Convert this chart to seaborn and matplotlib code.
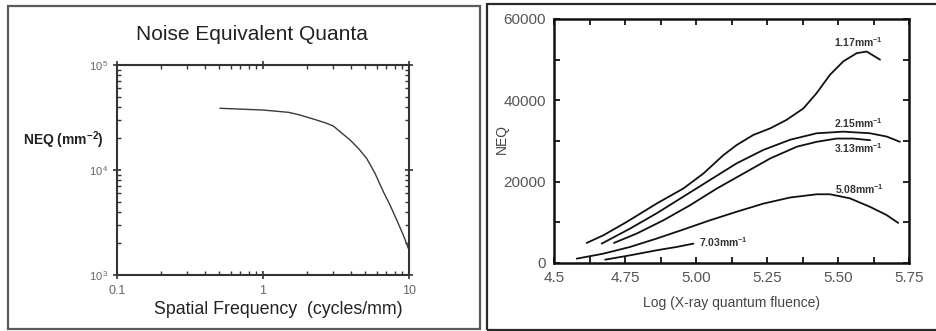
import matplotlib
matplotlib.use("Agg")
import matplotlib.pyplot as plt
import matplotlib.patches as mpatches
import matplotlib.ticker as mticker
import numpy as np
import pandas as pd
import seaborn as sns

sns.set_style("white")
plt.rcParams['font.family'] = ['Liberation Sans', 'DejaVu Sans']
plt.rcParams['mathtext.fontset'] = 'custom'
plt.rcParams['mathtext.rm'] = 'Liberation Sans'
plt.rcParams['mathtext.bf'] = 'Liberation Sans:bold'

# ---------------- Left panel data (log-log NEQ vs spatial frequency) ----------
freq = [0.507, 1.0, 1.5, 1.79, 2.33, 2.7, 3.03, 3.95, 4.50, 5.13, 5.85, 6.67, 7.41, 8.24,
        9.14, 9.9, 10.0]
neq_freq = [38700, 37260, 35400, 33400, 29900, 28000, 26250, 19300, 16070, 12900, 9290,
            6220, 4640, 3340, 2400, 1795, 1750]

# ---------------- Right panel data (NEQ vs log fluence) -----------------------
x_117 = [4.615, 4.674, 4.756, 4.861, 4.955, 5.026, 5.096, 5.143, 5.202, 5.261,
         5.319, 5.378, 5.425, 5.472, 5.519, 5.566, 5.601, 5.648]
y_117 = [4930, 6820, 10100, 14600, 18300, 22000, 26500, 29000, 31500, 33100,
         35200, 38000, 41800, 46300, 49600, 51600, 52000, 50000]
x_215 = [4.668, 4.768, 4.861, 4.955, 5.049, 5.143, 5.237, 5.331, 5.425, 5.519,
         5.613, 5.671, 5.718]
y_215 = [4770, 8470, 12200, 16300, 20400, 24500, 27800, 30300, 31900, 32300,
         31900, 31100, 29800]
x_313 = [4.711, 4.791, 4.885, 4.979, 5.073, 5.167, 5.261, 5.355, 5.425, 5.495,
         5.554, 5.613]
y_313 = [4930, 7230, 10500, 14200, 18300, 22000, 25700, 28600, 29800, 30600,
         30600, 30200]
x_508 = [4.58, 4.674, 4.768, 4.861, 4.955, 5.049, 5.143, 5.237, 5.331, 5.425,
         5.472, 5.542, 5.613, 5.671, 5.712]
y_508 = [1070, 2300, 3950, 6000, 8220, 10500, 12600, 14600, 16100, 16900,
         16900, 15900, 13800, 11800, 9860]
x_703 = [4.68, 4.768, 4.861, 4.932, 4.991]
y_703 = [820, 1890, 3120, 3950, 4770]

series_names = ["1.17", "2.15", "3.13", "5.08", "7.03"]
label_x = [5.572, 5.572, 5.572, 5.575, 5.095]
label_y = [54300, 34300, 28300, 18200, 5200]

W, H = 937, 331
fig = plt.figure(figsize=(W / 100, H / 100), dpi=100)
fig.patch.set_facecolor("white")

# panel frames
fig.patches.append(mpatches.Rectangle((8.5 / W, 1 - 328.5 / H), (480 - 8.5) / W, (328.5 - 5.5) / H,
                                      transform=fig.transFigure, fill=False,
                                      edgecolor="#5a5a5a", linewidth=1.6))
fig.patches.append(mpatches.Rectangle((487 / W, 1 - 329.5 / H), (960 - 487) / W, (329.5 - 4) / H,
                                      transform=fig.transFigure, fill=False,
                                      edgecolor="#2a2a2a", linewidth=1.6, clip_on=False))

# ---------------- Left axes ----------------
axL = fig.add_axes([117 / W, 1 - 275 / H, (409 - 117) / W, 210 / H])
dfL = pd.DataFrame({"freq": freq, "neq": neq_freq})
sns.lineplot(data=dfL, x="freq", y="neq", ax=axL, color="#3a3a3a", linewidth=1.0, sort=False)
axL.set_xscale("log")
axL.set_yscale("log")
axL.set_xlim(0.1, 10)
axL.set_ylim(1e3, 1e5)
axL.set_xlabel("")
axL.set_ylabel("")
for s in axL.spines.values():
    s.set_color("#333333")
    s.set_linewidth(1.5)
axL.xaxis.set_major_formatter(mticker.FuncFormatter(
    lambda v, p: {0.1: "0.1", 1: "1", 10: "10"}.get(round(v, 3), "")))
axL.yaxis.set_major_formatter(mticker.FuncFormatter(
    lambda v, p: r"10$^{\,%d}$" % int(round(np.log10(v)))))
axL.tick_params(which="major", direction="inout", length=6, width=1.2, color="#333333",
                top=True, right=True, bottom=True, left=True)
axL.tick_params(which="minor", direction="in", length=3, width=1.0, color="#333333",
                top=True, right=True, bottom=True, left=True)
axL.tick_params(axis="x", labelsize=9, labelcolor="#666666", pad=4)
axL.tick_params(axis="y", labelsize=8, labelcolor="#666666", pad=3)
axL.xaxis.set_minor_locator(mticker.LogLocator(base=10, subs=np.arange(2, 10)))
axL.yaxis.set_minor_locator(mticker.LogLocator(base=10, subs=np.arange(2, 10)))
axL.xaxis.set_minor_formatter(mticker.NullFormatter())
axL.yaxis.set_minor_formatter(mticker.NullFormatter())

fig.text(252 / W, 1 - 34 / H, "Noise Equivalent Quanta", ha="center", va="center",
         fontsize=15, color="#222222")
fig.text(278 / W, 1 - 309 / H, "Spatial Frequency  (cycles/mm)", ha="center", va="center",
         fontsize=12.8, color="#222222")
fig.text(23 / W, 1 - 140 / H, r"NEQ (mm$^{\mathbf{-2}}$)", ha="left", va="center",
         fontsize=10, fontweight="bold", color="#222222")

# ---------------- Right axes ----------------
axR = fig.add_axes([554 / W, 1 - 263 / H, 355 / W, 244 / H])
xs = [x_117, x_215, x_313, x_508, x_703]
ys = [y_117, y_215, y_313, y_508, y_703]
dfR = pd.concat([pd.DataFrame({"logf": x, "neq": y, "freq": n})
                 for x, y, n in zip(xs, ys, series_names)], ignore_index=True)
sns.lineplot(data=dfR, x="logf", y="neq", hue="freq", units="freq", estimator=None,
             palette=["#111111"] * 5, linewidth=1.3, legend=False, ax=axR, sort=False)
axR.set_xlim(4.5, 5.75)
axR.set_ylim(0, 60000)
axR.set_xticks([4.5, 4.75, 5.0, 5.25, 5.5, 5.75])
axR.set_xticklabels(["4.5", "4.75", "5.00", "5.25", "5.50", "5.75"])
axR.set_yticks([0, 20000, 40000, 60000])
axR.set_yticklabels(["0", "20000", "40000", "60000"])
axR.xaxis.set_minor_locator(mticker.MultipleLocator(0.125))
axR.yaxis.set_minor_locator(mticker.MultipleLocator(10000))
for s in axR.spines.values():
    s.set_color("#111111")
    s.set_linewidth(1.8)
axR.tick_params(which="both", direction="in", length=4, width=1.3, color="#111111",
                top=True, right=True, bottom=True, left=True)
axR.tick_params(labelsize=11, labelcolor="#555555", pad=6)
axR.set_xlabel("")
axR.set_ylabel("")

for n, lx, ly in zip(series_names, label_x, label_y):
    axR.text(lx, ly, n + r"mm$^{\mathbf{-1}}$", ha="center", va="center",
             fontsize=7.5, fontweight="bold", color="#333333")

fig.text(732 / W, 1 - 303 / H, "Log (X-ray quantum fluence)", ha="center", va="center",
         fontsize=10, color="#444444")
fig.text(502 / W, 1 - 139 / H, "NEQ", ha="center", va="center", rotation=90,
         fontsize=10, color="#444444")

fig.savefig("out.png", dpi=100, facecolor="white")
